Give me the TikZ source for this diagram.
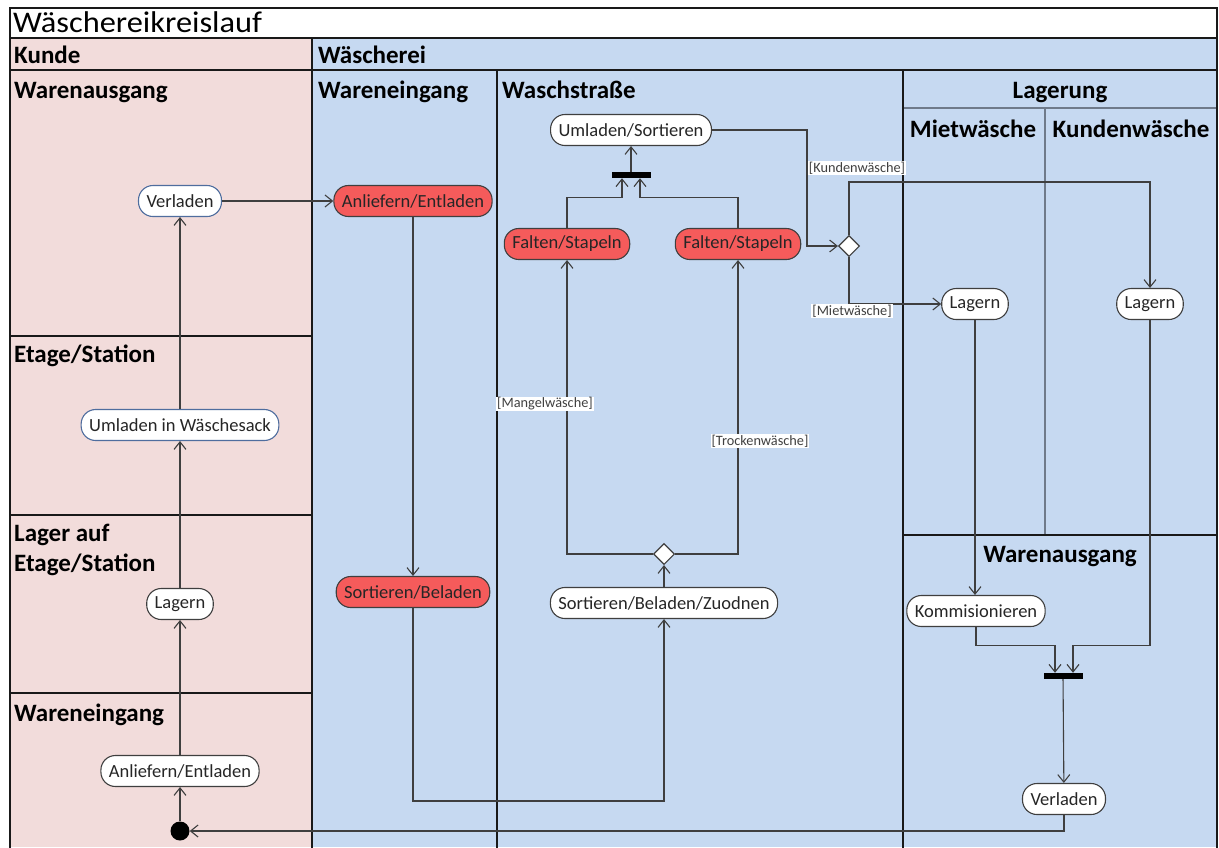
\documentclass[tikz,border=0pt]{standalone}
\usepackage{fontspec}
\setmainfont{Carlito}
\usetikzlibrary{arrows.meta,shapes.geometric,calc}
\definecolor{kundebg}{HTML}{F2DCDB}
\definecolor{waschbg}{HTML}{C6D9F1}
\definecolor{actred}{HTML}{F55B5B}
\definecolor{edgegray}{HTML}{3F3F3F}
\definecolor{laneblue}{HTML}{4F6D9E}
\definecolor{thingray}{HTML}{6F7A8A}

\begin{document}
\begin{tikzpicture}[x=1pt,y=-1pt,
  lane/.style={line width=2.8pt,draw=black!90,line cap=rect},
  sublane/.style={line width=1.2pt,draw=thingray},
  heading/.style={font=\fontsize{25}{27}\selectfont\bfseries,inner sep=0pt},
  act/.style={draw=edgegray,line width=1.1pt,fill=white,rounded corners=14.5pt,
    minimum height=31pt,inner xsep=8pt,inner ysep=0pt,
    font=\fontsize{18.5}{20}\selectfont,text=black!85},
  actred/.style={act,fill=actred},
  actblue/.style={act,draw=laneblue},
  decision/.style={diamond,draw=edgegray,fill=white,line width=1.1pt,
    minimum width=21pt,minimum height=21pt,inner sep=0pt},
  bar/.style={fill=black,minimum width=39pt,minimum height=6pt,inner sep=0pt},
  initial/.style={circle,fill=black,minimum size=19pt,inner sep=0pt},
  guard/.style={fill=white,inner sep=1pt,font=\fontsize{14.3}{16}\selectfont,text=black!75},
  flow/.style={draw=edgegray,line width=1.1pt,-{Straight Barb[length=7.5pt,width=12pt]}},
]
\useasboundingbox (0,0) rectangle (1219,847);

% swimlane backgrounds
\fill[white] (10,8) rectangle (1217,38);
\fill[kundebg] (10,38) rectangle (312,847);
\fill[waschbg] (312,38) rectangle (1217,847);

% thin partitions inside "Lagerung"
\draw[sublane] (903,108) -- (1217,108);
\draw[sublane] (1045,108) -- (1045,535);

% frame and lane borders
\draw[lane] (10,848) -- (10,8) -- (1217,8) -- (1217,848);
\draw[lane] (10,38) -- (1217,38);
\draw[lane] (10,70) -- (1217,70);
\draw[lane] (312,38) -- (312,848);
\draw[lane] (497,70) -- (497,848);
\draw[lane] (903,70) -- (903,848);
\draw[lane] (10,336) -- (312,336);
\draw[lane] (10,515) -- (312,515);
\draw[lane] (10,693) -- (312,693);
\draw[lane] (903,535) -- (1217,535);

% lane titles
\node[anchor=base west,inner sep=0pt,font=\fontsize{30}{32}\selectfont] (title) at (13,32)
  {\scalebox{1.08}[1]{Wäschereikreislauf}};
\node[heading,anchor=base west] (hKunde) at (14,63) {Kunde};
\node[heading,anchor=base west] (hWaescherei) at (318,63) {Wäscherei};
\node[heading,anchor=base west] (hKAusgang) at (14,98) {Warenausgang};
\node[heading,anchor=base west] (hWEingang) at (318,98) {Wareneingang};
\node[heading,anchor=base west] (hStrasse) at (502,98) {Waschstraße};
\node[heading,anchor=base] (hLagerung) at (1060,98) {Lagerung};
\node[heading,anchor=base] (hMiet) at (973,137) {Mietwäsche};
\node[heading,anchor=base] (hKundenw) at (1131,137) {Kundenwäsche};
\node[heading,anchor=base west] (hEtage) at (14,362) {Etage/Station};
\node[heading,anchor=base west] (hLager1) at (14,541) {Lager auf};
\node[heading,anchor=base west] (hLager2) at (14,571) {Etage/Station};
\node[heading,anchor=base west] (hKEingang) at (14,721) {Wareneingang};
\node[heading,anchor=base] (hWAusgang) at (1060,562) {Warenausgang};

% activities: Kunde
\node[actblue] (kVerladen) at (180,201) {Verladen};
\node[actblue] (kUmladen) at (180,425) {Umladen in Wäschesack};
\node[act] (kLagern) at (180,604) {Lagern};
\node[act] (kAnliefern) at (180,771) {Anliefern/Entladen};
\node[initial] (start) at (180,831) {};

% activities: Wäscherei
\node[actred] (wAnliefern) at (413,201) {Anliefern/Entladen};
\node[actred] (wSortieren) at (413,592) {Sortieren/Beladen};
\node[act] (sUmladen) at (631,130) {Umladen/Sortieren};
\node[bar] (forkTop) at (631,175) {};
\node[actred] (sFaltenL) at (567,244) {Falten/Stapeln};
\node[actred] (sFaltenR) at (738,244) {Falten/Stapeln};
\node[decision] (decWash) at (664,554) {};
\node[act] (sZuordnen) at (664,603) {Sortieren/Beladen/Zuodnen};
\node[decision] (decStore) at (849,246) {};
\node[act] (lLagernM) at (975,304) {Lagern};
\node[act] (lLagernK) at (1150,304) {Lagern};
\node[act] (aKomm) at (976,611) {Kommisionieren};
\node[bar] (forkBottom) at (1063,676) {};
\node[act] (aVerladen) at (1064,799) {Verladen};

% helper levels for routed flows
\coordinate (yLoop) at (0,801);
\coordinate (yKunden) at (0,182);

% control flows
\draw[flow] (start) -- (kAnliefern);
\draw[flow] (kAnliefern) -- (kLagern);
\draw[flow] (kLagern) -- (kUmladen);
\draw[flow] (kUmladen) -- (kVerladen);
\draw[flow] (kVerladen) -- (wAnliefern);
\draw[flow] (wAnliefern) -- (wSortieren);
\draw[flow] (wSortieren.south) -- (wSortieren.south |- yLoop)
  -- (sZuordnen.south |- yLoop) -- (sZuordnen.south);
\draw[flow] (sZuordnen) -- (decWash);
\draw[flow] (decWash.west) -| (sFaltenL.south);
\draw[flow] (decWash.east) -| (sFaltenR.south);
\draw[flow] (sFaltenL.north) |- ($(forkTop.south)+(-9,19)$) -- ($(forkTop.south)+(-9,0)$);
\draw[flow] (sFaltenR.north) |- ($(forkTop.south)+(9,19)$) -- ($(forkTop.south)+(9,0)$);
\draw[flow] (forkTop) -- (sUmladen);
\draw[flow] (sUmladen.east) -| ($(decStore.west)+(-31,0)$) -- (decStore.west);
\draw[flow] (decStore.north) -- (decStore.north |- yKunden)
  -- (lLagernK.north |- yKunden) -- (lLagernK.north);
\draw[flow] (decStore.south) |- (lLagernM.west);
\draw[flow] (lLagernM.south) -- (lLagernM.south |- aKomm.north);
\draw[flow] (lLagernK.south) |- ($(forkBottom.north)+(10,-27)$) -- ($(forkBottom.north)+(10,0)$);
\draw[flow] (aKomm.south) |- ($(forkBottom.north)+(-8,-27)$) -- ($(forkBottom.north)+(-8,0)$);
\draw[flow] (forkBottom) -- (aVerladen);
\draw[flow] (aVerladen.south) |- (start.east);

% guard conditions
\node[guard] (gMangel) at (545,404) {[Mangelwäsche]};
\node[guard] (gTrocken) at (760,441) {[Trockenwäsche]};
\node[guard] (gKunden) at (857,168) {[Kundenwäsche]};
\node[guard] (gMiet) at (852,311) {[Mietwäsche]};
\end{tikzpicture}
\end{document}
